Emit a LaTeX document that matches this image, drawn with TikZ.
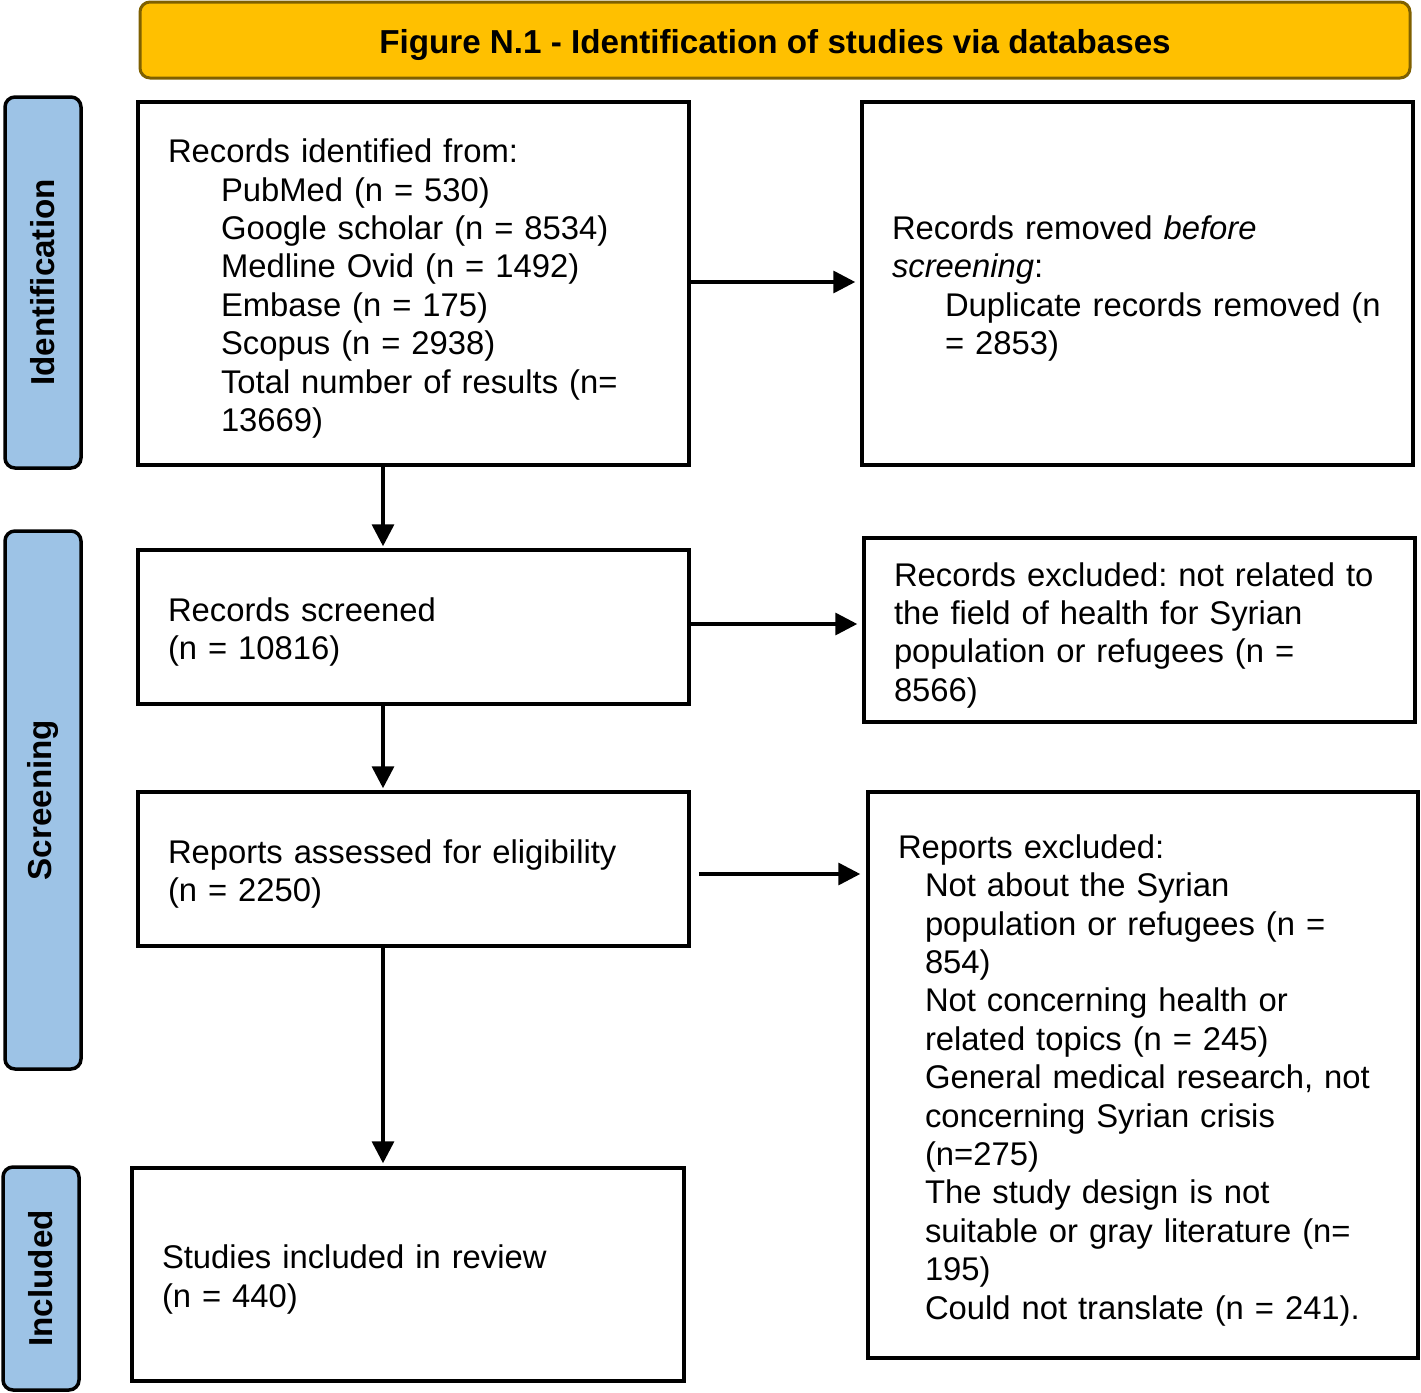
\documentclass[tikz,border=0pt]{standalone}
\usepackage{fontspec}
\setmainfont{Liberation Sans}
\usetikzlibrary{shapes,arrows.meta}
\definecolor{gold}{HTML}{FFC000}
\definecolor{goldline}{HTML}{7F6000}
\definecolor{stage}{HTML}{9DC3E6}
\tikzstyle{r} = [rectangle, draw=black, line width=1.75pt, align=left, inner xsep=15pt, inner ysep=2pt, font=\fontsize{16.4}{19.2}\selectfont]
\tikzstyle{s} = [rectangle, rounded corners=5pt, draw=black, fill=stage, line width=1.75pt, rotate=90, minimum height=38pt, inner sep=0pt, font=\fontsize{16.6}{19.2}\selectfont\bfseries]
\tikzstyle{a} = [line width=1.75pt, -{Triangle[length=11pt,width=11pt]}]
\newcommand{\ind}{\hspace*{26.5pt}}
\newcommand{\sind}{\hspace*{13.5pt}}
\newcommand{\up}{\rule{0pt}{17pt}}

\begin{document}
\frenchspacing
\begin{tikzpicture}[x=0.5pt,y=-0.5pt]
			\useasboundingbox (0,0) rectangle (1421,1393);
			\node[rectangle, rounded corners=5pt, draw=goldline, fill=gold, line width=1.5pt, minimum width=635pt, minimum height=38pt, inner sep=0pt, font=\fontsize{16.6}{19.2}\selectfont\bfseries](t) at (775,40){\up Figure N.1 - Identification of studies via databases};
			
			\node[s, minimum width=185.5pt](id) at (43,282.5){Identification};
			\node[s, minimum width=269pt](sc) at (43,800){Screening};
			\node[s, minimum width=111.5pt](in) at (41,1278.5){Included};
			
			\node[r, text width=245.5pt, minimum height=181.5pt](1) at (413.5,283.5){\up Records identified from:\\
				\ind PubMed (n = 530)\\
				\ind Google scholar (n = 8534)\\
				\ind Medline Ovid (n = 1492)\\
				\ind Embase (n = 175)\\
				\ind Scopus (n = 2938)\\
				\ind Total number of results (n=\\
				\ind 13669)};
			\node[r, text width=245.5pt, minimum height=181.5pt](2) at (1137.5,283.5){\up Records removed \textit{before}\\
				\textit{screening}:\\
				\ind\mbox{Duplicate records removed (n}\\
				\ind = 2853)};
			\node[r, text width=245.5pt, minimum height=77pt](3) at (413.5,627){\up Records screened\\(n = 10816)};
			\node[r, text width=245.5pt, minimum height=92pt](4) at (1139.5,630){\up\mbox{Records excluded: not related to}\\
				the field of health for Syrian\\
				population or refugees (n =\\
				8566)};
			\node[r, text width=245.5pt, minimum height=77pt](5) at (413.5,869){\up Reports assessed for eligibility\\(n = 2250)};
			\node[r, text width=245pt, minimum height=283pt](6) at (1143,1075){\up Reports excluded:\\
				\sind Not about the Syrian\\
				\sind population or refugees (n =\\
				\sind 854)\\
				\sind Not concerning health or\\
				\sind related topics (n = 245)\\
				\sind\mbox{General medical research, not}\\
				\sind concerning Syrian crisis\\
				\sind (n=275)\\
				\sind The study design is not\\
				\sind\mbox{suitable or gray literature (n=}\\
				\sind 195)\\
				\sind Could not translate (n = 241).};
			\node[r, text width=246pt, minimum height=106.5pt](7) at (408,1274.5){\up Studies included in review\\(n = 440)};
			
			\draw[a, shorten >=2.5pt] ([yshift=0.75pt]1.east) -- ([yshift=0.75pt]1.east -| 2.west);
			\draw[a, shorten >=2.5pt] ([yshift=1.5pt]3.east) -- ([yshift=1.5pt]3.east -| 4.west);
			\draw[a, shorten <=4pt, shorten >=3pt] ([yshift=-2.5pt]5.east) -- ([yshift=-2.5pt]5.east -| 6.west);
			\draw[a, shorten >=1pt] ([xshift=-15.25pt]1.south) -- ([xshift=-15.25pt]3.north);
			\draw[a, shorten >=1pt] ([xshift=-15.25pt]3.south) -- ([xshift=-15.25pt]5.north);
			\draw[a, shorten >=1.5pt] ([xshift=-15.25pt]5.south) -- ([xshift=-15.25pt]5.south |- 7.north);
\end{tikzpicture}
\end{document}
